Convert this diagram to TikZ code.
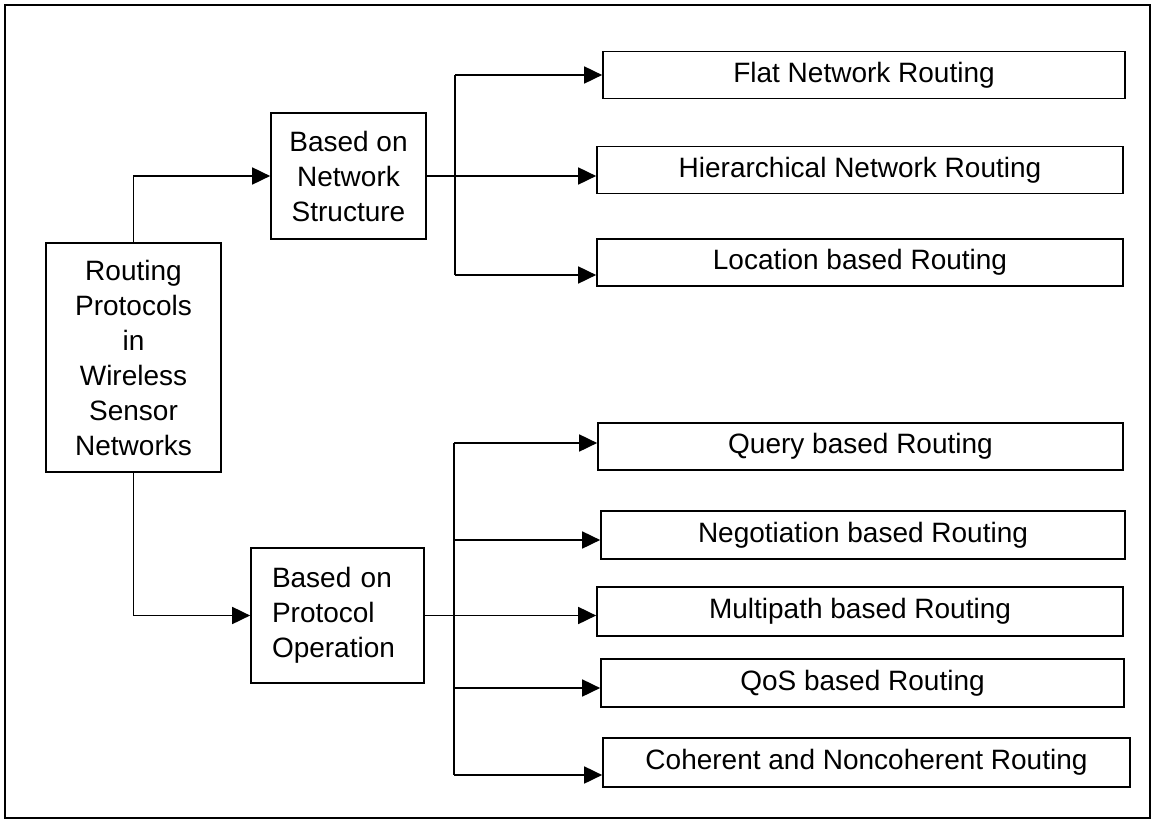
\documentclass[tikz,border=0pt]{standalone}
\usepackage{fontspec}
\setmainfont{Liberation Sans}
\usetikzlibrary{arrows.meta}
\begin{document}
\begin{tikzpicture}[x=1pt,y=-1pt,
  every node/.style={font=\fontsize{28}{35}\selectfont},
  box/.style={draw, line width=1.7pt, inner sep=0pt, align=center},
  leaf/.style={box, minimum height=47pt},
  conn/.style={line width=1.8pt},
  arr/.style={conn, -{Triangle[length=18pt,width=17pt]}}
]
\useasboundingbox (0,0) rectangle (1158,821);
% outer frame
\draw[line width=2.2pt] (5,5) rectangle (1150,818);

% root and the two classes
\node[box, minimum width=175pt, minimum height=229pt] (root) at (133.5,357.5)
  {Routing\\Protocols\\in\\Wireless\\Sensor\\Networks};
\node[box, minimum width=155pt, minimum height=126pt] (ns) at (348.5,176)
  {Based on\\Network\\Structure};
\node[box, align=left, text width=131pt, inner xsep=21pt, minimum height=135pt] (po) at (337.5,615.5)
  {Based on\\Protocol\\Operation\\[6pt]};

% network structure leaves
\node[leaf, minimum width=522pt] (flat) at (864,75) {Flat Network Routing};
\node[leaf, minimum width=526pt] (hier) at (860,170) {Hierarchical Network Routing};
\node[leaf, minimum width=526pt] (loc)  at (860,262.5) {Location based Routing};

% protocol operation leaves
\node[leaf, minimum width=525pt] (query) at (860.5,446.5) {Query based Routing};
\node[leaf, minimum width=524pt, minimum height=48pt] (nego) at (863,535) {Negotiation based Routing};
\node[leaf, minimum width=526pt, minimum height=49pt] (multi) at (860,611.5) {Multipath based Routing};
\node[leaf, minimum width=523pt, minimum height=48pt] (qos) at (862.5,683) {QoS based Routing};
\node[leaf, minimum width=527pt, minimum height=49pt] (coh) at (866.5,762.5) {Coherent and Noncoherent Routing};

% root to classes
\draw[arr] (root.north) |- (ns.west);
\draw[arr] (root.south) |- (po.west);

% network structure bus
\coordinate (nsA) at (455,75);
\coordinate (nsB) at (455,275);
\draw[conn] (nsA) -- (nsB);
\draw[arr] (nsA) -- (nsA -| flat.west);
\draw[arr] (ns.east) -- (ns.east -| hier.west);
\draw[arr] (nsB) -- (nsB -| loc.west);

% protocol operation bus
\coordinate (poA) at (454,443);
\coordinate (poB) at (454,540);
\coordinate (poC) at (454,688);
\coordinate (poD) at (454,775);
\draw[conn] (poA) -- (poD);
\draw[arr] (poA) -- (poA -| query.west);
\draw[arr] (poB) -- (poB -| nego.west);
\draw[arr] (po.east) -- (po.east -| multi.west);
\draw[arr] (poC) -- (poC -| qos.west);
\draw[arr] (poD) -- (poD -| coh.west);
\end{tikzpicture}
\end{document}
